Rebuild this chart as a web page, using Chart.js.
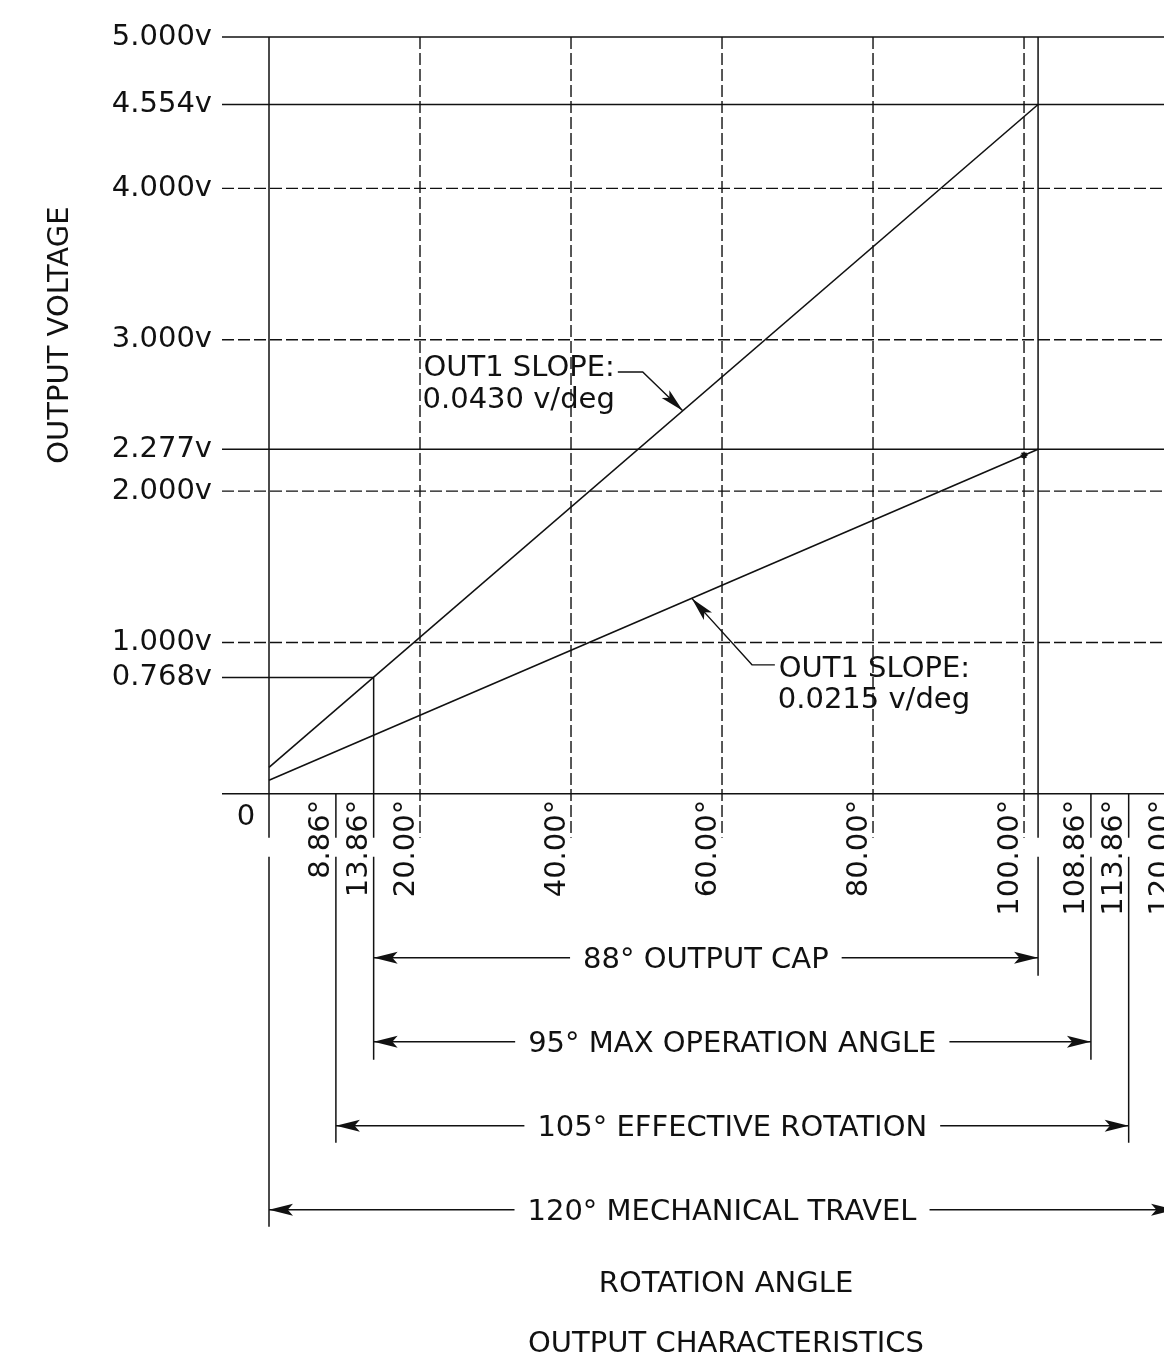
<!DOCTYPE html>
<html>
<head>
<meta charset="utf-8">
<script src="https://cdn.jsdelivr.net/npm/chart.js@4.4.1/dist/chart.umd.min.js"></script>
<style>
  html, body { margin: 0; padding: 0; background: #fff; overflow: hidden; }
  #wrap { width: 1164px; height: 1365px; overflow: hidden; }
  canvas { display: block; }
</style>
</head>
<body>
<div id="wrap"><canvas id="c" width="1230" height="1365"></canvas></div>
<script>
// ---------- values ----------
const angleTicks = [0, 8.86, 13.86, 20, 40, 60, 80, 100, 108.86, 113.86, 120];
const angleTickLabels = ['0', '8.86°', '13.86°', '20.00°', '40.00°', '60.00°', '80.00°', '100.00°', '108.86°', '113.86°', '120.00°'];
const voltTicks = [0.768, 1, 2, 2.277, 3, 4, 4.554, 5];
const voltTickLabels = ['0.768v', '1.000v', '2.000v', '2.277v', '3.000v', '4.000v', '4.554v', '5.000v'];

const slopeAngles = [0, 101.86];
const out1Steep = [0.174, 4.554];    // 0.0430 v/deg
const out1Shallow = [0.09, 2.277];   // 0.0215 v/deg
const markAngle = [100];
const markVolt = [2.237];

const solidLevels = [5, 4.554, 2.277, 0];
const dashedLevels = [4, 3, 2, 1];
const dashedAngles = [20, 40, 60, 80, 100];
const capLevel = 0.768;
const capAngle = 13.86;

const extAngles = [0, 8.86, 13.86, 101.86, 108.86, 113.86, 120];
const extTop    = [5, 0, 0.768, 5, 0, 0, 0];
const extBottom = [-2.86, -2.305, -1.757, -1.202, -1.757, -2.305, -2.86];
const labelGap  = [-0.29, -0.416];

const dimLabels = ['88° OUTPUT CAP', '95° MAX OPERATION ANGLE', '105° EFFECTIVE ROTATION', '120° MECHANICAL TRAVEL'];
const dimFrom  = [13.86, 13.86, 8.86, 0];
const dimTo    = [101.86, 108.86, 113.86, 120];
const dimLevel = [-1.083, -1.638, -2.193, -2.748];

const noteLines = [['OUT1 SLOPE:', '0.0430 v/deg'], ['OUT1 SLOPE:', '0.0215 v/deg']];
const noteRightAngle = [45.8, 92.85];
const noteLineLevels = [[2.827, 2.619], [0.839, 0.637]];
const leaderAngles = [[46.2, 49.5, 54.8], [67.0, 63.97, 56.0]];
const leaderVolts  = [[2.787, 2.787, 2.53], [0.852, 0.852, 1.291]];

const xMin = -6.225, xMax = 127.28, yMin = -2.9, yMax = 5;

// ---------- styling ----------
const INK = '#111';
const FONT = '"DejaVu Sans", "Liberation Sans", sans-serif';
const FS = 29;
const DASH = [12, 4];

function seg(x1, y1, x2, y2, dashed, width) {
  return {
    data: [{x: x1, y: y1}, {x: x2, y: y2}],
    showLine: true, borderColor: INK, borderWidth: width || 1.5,
    borderDash: dashed ? DASH : [], pointRadius: 0, pointHoverRadius: 0, clip: false
  };
}

const datasets = [];
datasets.push(seg(slopeAngles[0], out1Steep[0], slopeAngles[1], out1Steep[1], false, 1.6));
datasets.push(seg(slopeAngles[0], out1Shallow[0], slopeAngles[1], out1Shallow[1], false, 1.6));
solidLevels.forEach(v => datasets.push(seg(xMin, v, xMax, v, false)));
dashedLevels.forEach(v => datasets.push(seg(xMin, v, xMax, v, true, 1.4)));
datasets.push(seg(xMin, capLevel, capAngle, capLevel, false));
dashedAngles.forEach(a => datasets.push(seg(a, yMax, a, labelGap[0], true, 1.4)));
extAngles.forEach((a, i) => {
  datasets.push(seg(a, extTop[i], a, labelGap[0], false));
  datasets.push(seg(a, labelGap[1], a, extBottom[i], false));
});
dimLabels.forEach((t, i) => datasets.push(seg(dimFrom[i], dimLevel[i], dimTo[i], dimLevel[i], false, 1.4)));
leaderAngles.forEach((arr, i) => {
  datasets.push({
    data: arr.map((a, k) => ({x: a, y: leaderVolts[i][k]})),
    showLine: true, borderColor: INK, borderWidth: 1.4, pointRadius: 0, pointHoverRadius: 0, clip: false
  });
});
datasets.push({
  data: markAngle.map((a, i) => ({x: a, y: markVolt[i]})),
  showLine: false, pointStyle: 'star', pointRadius: 3.5, pointHoverRadius: 3.5,
  borderColor: INK, borderWidth: 1.6, backgroundColor: INK
});

function arrowHead(ctx, tx, ty, dx, dy, len, half) {
  const L = Math.hypot(dx, dy); dx /= L; dy /= L;
  const nx = -dy, ny = dx;
  const bx = tx - dx * len, by = ty - dy * len;
  const mx = tx - dx * len * 0.78, my = ty - dy * len * 0.78;
  ctx.beginPath();
  ctx.moveTo(tx, ty);
  ctx.lineTo(bx + nx * half, by + ny * half);
  ctx.lineTo(mx, my);
  ctx.lineTo(bx - nx * half, by - ny * half);
  ctx.closePath();
  ctx.fill();
}

const CAP = 0.365; // cap-centre offset (em) from baseline

const drawing = {
  id: 'drawing',
  afterDatasetsDraw(chart) {
    const {ctx, scales: {x, y}} = chart;
    ctx.save();
    ctx.fillStyle = INK;
    ctx.font = FS + 'px ' + FONT;
    const y0 = y.getPixelForValue(0);

    // angle labels
    angleTicks.forEach((a, i) => {
      const px = x.getPixelForValue(a);
      if (i === 0) {
        ctx.textAlign = 'center'; ctx.textBaseline = 'alphabetic';
        ctx.fillText(angleTickLabels[i], px - 23, y0 + 21 + CAP * FS);
        return;
      }
      ctx.save();
      ctx.translate(px - 6.5, y0 + 6);
      ctx.rotate(-Math.PI / 2);
      ctx.textAlign = 'right'; ctx.textBaseline = 'alphabetic';
      ctx.fillText(angleTickLabels[i], 0, 0);
      ctx.restore();
    });

    // dimension arrows + text
    dimLabels.forEach((t, i) => {
      const x1 = x.getPixelForValue(dimFrom[i]);
      const x2 = x.getPixelForValue(dimTo[i]);
      const py = y.getPixelForValue(dimLevel[i]);
      arrowHead(ctx, x1, py, -1, 0, 24, 6);
      arrowHead(ctx, x2, py, 1, 0, 24, 6);
      const cx = (x1 + x2) / 2;
      const w = ctx.measureText(t).width;
      ctx.fillStyle = '#fff';
      ctx.fillRect(cx - w / 2 - 13, py - 17, w + 26, 34);
      ctx.fillStyle = INK;
      ctx.textAlign = 'center'; ctx.textBaseline = 'alphabetic';
      ctx.fillText(t, cx, py + CAP * FS);
    });

    // slope notes
    noteLines.forEach((lines, i) => {
      const rx = x.getPixelForValue(noteRightAngle[i]);
      lines.forEach((t, k) => {
        ctx.textAlign = 'right'; ctx.textBaseline = 'alphabetic';
        ctx.fillText(t, rx, y.getPixelForValue(noteLineLevels[i][k]) + CAP * FS);
      });
      const n = leaderAngles[i].length;
      const tx = x.getPixelForValue(leaderAngles[i][n - 1]);
      const ty = y.getPixelForValue(leaderVolts[i][n - 1]);
      const sx = x.getPixelForValue(leaderAngles[i][n - 2]);
      const sy = y.getPixelForValue(leaderVolts[i][n - 2]);
      arrowHead(ctx, tx, ty, tx - sx, ty - sy, 24, 5.5);
    });

    // vertical axis title
    ctx.save();
    ctx.translate(57 + CAP * FS, y.getPixelForValue(3.03));
    ctx.rotate(-Math.PI / 2);
    ctx.textAlign = 'center'; ctx.textBaseline = 'alphabetic';
    ctx.fillText('OUTPUT VOLTAGE', 0, 0);
    ctx.restore();

    ctx.restore();
  }
};

new Chart(document.getElementById('c'), {
  type: 'scatter',
  data: { datasets },
  plugins: [drawing],
  options: {
    responsive: false,
    animation: false,
    devicePixelRatio: 1,
    layout: { autoPadding: false, padding: { top: 37, right: 0, bottom: 0, left: 0 } },
    events: [],
    plugins: {
      legend: { display: false },
      tooltip: { enabled: false },
      title: {
        display: true, position: 'bottom', fullSize: false, text: 'OUTPUT CHARACTERISTICS', color: INK,
        font: { family: FONT, size: FS, weight: 'normal', lineHeight: 1.25 },
        padding: { top: 0, bottom: 2 }
      }
    },
    scales: {
      x: {
        type: 'linear', min: xMin, max: xMax,
        grid: { display: false, drawTicks: false },
        border: { display: false },
        ticks: { display: false },
        title: {
          display: true, text: 'ROTATION ANGLE', color: INK,
          font: { family: FONT, size: FS, weight: 'normal', lineHeight: 1.25 },
          padding: { top: 0, bottom: 24 }
        },
        afterFit: s => { s.height = 94; }
      },
      y: {
        type: 'linear', min: yMin, max: yMax,
        afterBuildTicks: s => { s.ticks = voltTicks.map(v => ({ value: v })); },
        ticks: {
          autoSkip: false, padding: 10, color: INK,
          font: { family: FONT, size: FS },
          callback: v => voltTickLabels[voltTicks.indexOf(v)]
        },
        grid: { display: false, drawTicks: false },
        border: { display: false },
        afterFit: s => { s.width = 222; }
      }
    }
  }
});
</script>
</body>
</html>
